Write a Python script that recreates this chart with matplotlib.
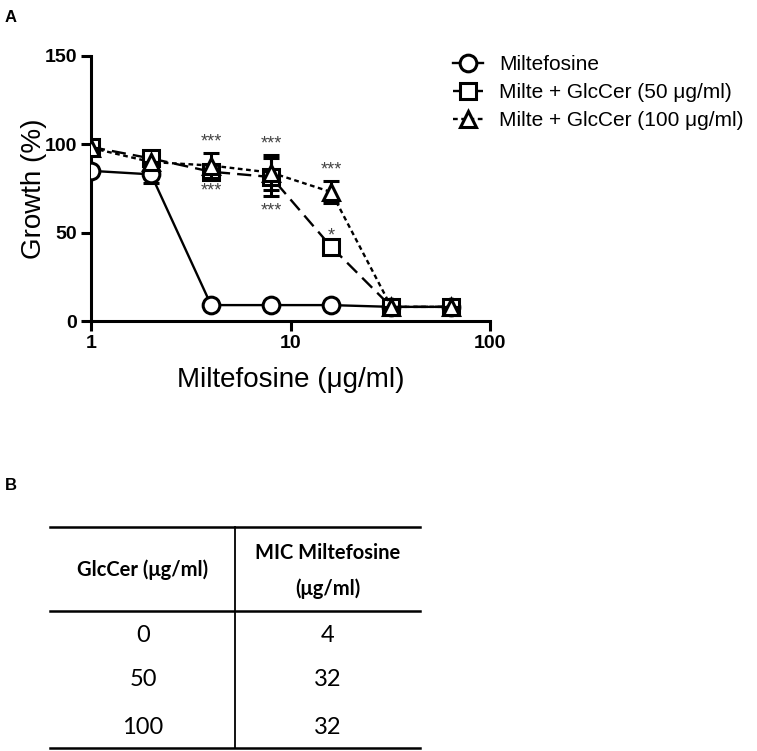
import numpy as np
import matplotlib
matplotlib.use("Agg")
import matplotlib.pyplot as plt

plt.rcParams['font.family'] = ['Liberation Sans', 'DejaVu Sans']

conc = [1, 2, 4, 8, 16, 32, 64]

milte = [85, 83, 9, 9, 9, 8, 8]
milte_err = [0, 5, 0, 0, 0, 0, 0]

glc50 = [98.5, 92, 84.5, 81.5, 42, 8, 8]
glc50_err = [0, 2, 3, 11, 0, 0, 0]

glc100 = [98, 90, 88, 84, 73, 8, 8]
glc100_err = [0, 0, 7, 10, 6, 0, 0]

labels = ["Miltefosine", "Milte + GlcCer (50 \u03bcg/ml)", "Milte + GlcCer (100 \u03bcg/ml)"]

# significance marks: (series, index of concentration, text, side)
sig = [
    ("g100", 2, "***", "above"),
    ("g50", 2, "***", "below"),
    ("g100", 3, "***", "above"),
    ("g50", 3, "***", "below"),
    ("g100", 4, "***", "above"),
    ("g50", 4, "*", "above"),
]

table_head = ["GlcCer (\u03bcg/ml)", "MIC Miltefosine\n(\u03bcg/ml)"]
table_glccer = ["0", "50", "100"]
table_mic = ["4", "32", "32"]

W, H = 757, 751
fig = plt.figure(figsize=(W / 100, H / 100), dpi=100)

ax = fig.add_axes([91 / W, 1 - 321 / H, 399 / W, 265 / H])

lw = 1.7
common = dict(color='black', mfc='white', mec='black', mew=2.2, lw=lw,
              capsize=6, capthick=2.2, elinewidth=2.2)
ax.errorbar(conc, milte, yerr=milte_err, marker='o', ms=12, ls='-',
            label=labels[0], zorder=3, **common)
ax.errorbar(conc, glc50, yerr=glc50_err, marker='s', ms=11, ls=(0, (6, 3)),
            label=labels[1], zorder=4, **common)
ax.errorbar(conc, glc100, yerr=glc100_err, marker='^', ms=12, ls=(0, (2, 1.5)),
            label=labels[2], zorder=5, **common)

series = {"g50": (glc50, glc50_err), "g100": (glc100, glc100_err)}
for name, i, txt, side in sig:
    vals, errs = series[name]
    if side == "above":
        y = vals[i] + errs[i]
        ax.annotate(txt, (conc[i], y), xytext=(0, 2), textcoords='offset points',
                    ha='center', va='bottom', fontsize=13, color='#444444')
    else:
        y = vals[i] - errs[i]
        ax.annotate(txt, (conc[i], y), xytext=(0, -4), textcoords='offset points',
                    ha='center', va='top', fontsize=13, color='#444444')

ax.set_xscale('log')
ax.set_xlim(1, 100)
ax.set_ylim(0, 150)
ax.set_xticks([1, 10, 100])
ax.set_xticklabels(['1', '10', '100'])
ax.set_yticks([0, 50, 100, 150])
ax.minorticks_off()
for s in ['top', 'right']:
    ax.spines[s].set_visible(False)
for s in ['left', 'bottom']:
    ax.spines[s].set_linewidth(2.2)
ax.tick_params(width=2.2, length=7, labelsize=14, pad=3)
for t in ax.get_xticklabels() + ax.get_yticklabels():
    t.set_fontweight('bold')
ax.set_xlabel("Miltefosine (\u03bcg/ml)", fontsize=20, labelpad=11)
ax.set_ylabel("Growth (%)", fontsize=20, labelpad=-2)
ax.patch.set_alpha(0)

# legend without error bars
handles, labs = ax.get_legend_handles_labels()
handles = [h[0] for h in handles]
fig.legend(handles, labs, loc='upper left', bbox_to_anchor=(445 / W, 1 - 47 / H),
           frameon=False, fontsize=15, handlelength=1.4, handletextpad=0.8,
           labelspacing=0.42, borderaxespad=0)

fig.text(5 / W, 1 - 18 / H, "A", fontsize=12, fontweight='bold', va='center')
fig.text(5 / W, 1 - 485 / H, "B", fontsize=12, fontweight='bold', va='center')

# table B
tf = ['Lato', 'DejaVu Sans']
def fy(py):
    return 1 - py / H

x0, x1, xm = 50 / W, 420 / W, 235 / W
for py in [527, 611, 748]:
    fig.add_artist(plt.Line2D([x0, x1], [fy(py), fy(py)], color='black', lw=1.8))
fig.add_artist(plt.Line2D([xm, xm], [fy(527), fy(748)], color='black', lw=1.3))

c1, c2 = 143 / W, 328 / W
fig.text(c1, fy(570), table_head[0], family=tf, fontsize=14.5, fontweight='bold',
         ha='center', va='center')
fig.text(c2, fy(571), table_head[1], family=tf, fontsize=14.5, fontweight='bold',
         ha='center', va='center', linespacing=1.9)
row_y = [635, 680, 727]
for g, m, py in zip(table_glccer, table_mic, row_y):
    fig.text(c1, fy(py), g, family=tf, fontsize=17, ha='center', va='center')
    fig.text(c2, fy(py), m, family=tf, fontsize=17, ha='center', va='center')

fig.savefig("out.png", dpi=100)
